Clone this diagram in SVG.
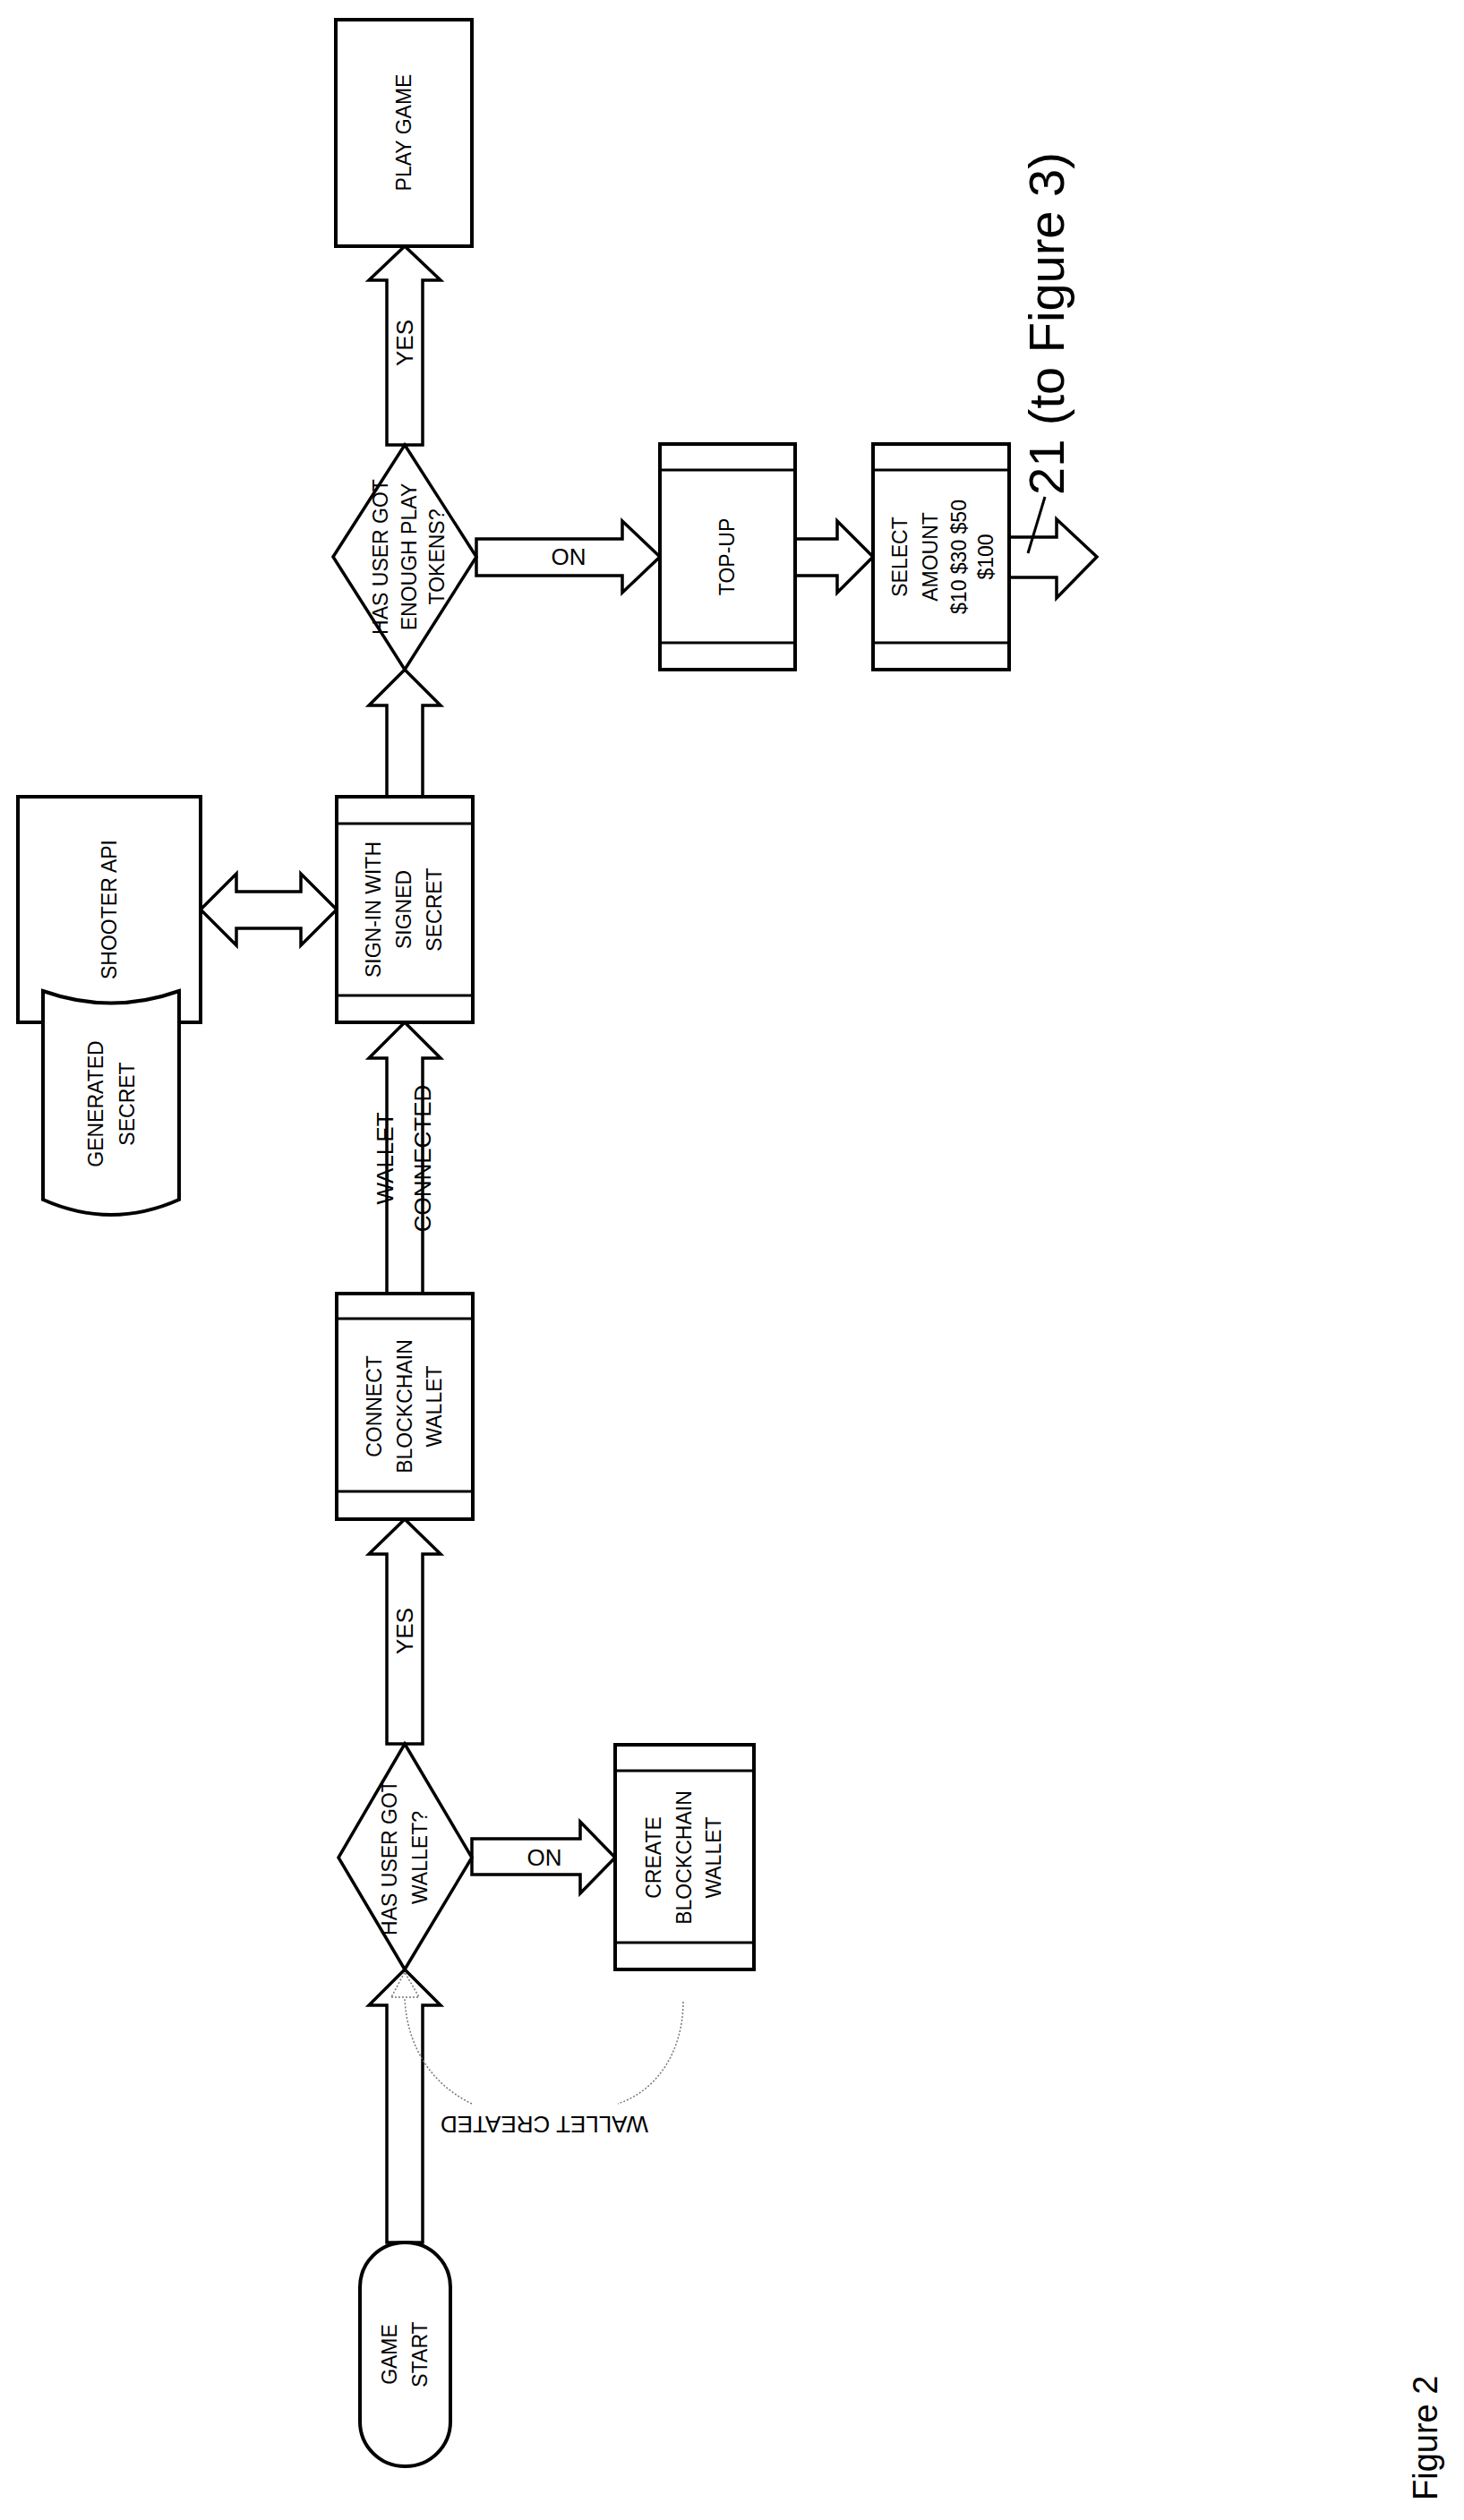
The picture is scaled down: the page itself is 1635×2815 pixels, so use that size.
<svg xmlns="http://www.w3.org/2000/svg" width="1635" height="2815" viewBox="0 0 1635 2815">
<style>
.b{fill:#fff;stroke:#000;stroke-width:4}
.a{fill:#fff;stroke:#000;stroke-width:3.5;stroke-linejoin:miter}
.l{stroke:#000;stroke-width:3}
.t{font-family:"Liberation Sans",Arial,sans-serif;font-size:23px;fill:#000;text-anchor:middle;dominant-baseline:central}
.lab{font-family:"Liberation Sans",Arial,sans-serif;font-size:26px;fill:#000;text-anchor:middle;dominant-baseline:central}
.d{fill:none;stroke:#777;stroke-width:1.5;stroke-dasharray:2 2}
</style>
<rect width="1635" height="2815" fill="#fff"/>
<g id="connectors">
<polygon class="a" points="432,497 432,313 412,313 452,275 492,313 472,313 472,497"/>
<text class="lab" transform="translate(452,383) rotate(-90)">YES</text>
<polygon class="a" points="532,602 695,602 695,582 737,622 695,662 695,643 532,643"/>
<text class="lab" x="635" y="622">ON</text>
<polygon class="a" points="888,602 935,602 935,582 975,622 935,662 935,643 888,643"/>
<polygon class="a" points="1127,600 1180,600 1180,580 1225,622 1180,668 1180,645 1127,645"/>
<line class="l" x1="1148" y1="618" x2="1167" y2="555"/>
<text font-family="Liberation Sans,Arial,sans-serif" font-size="56" transform="translate(1188,553) rotate(-90)">21 (to Figure 3)</text>
<polygon class="a" points="432,890 432,788 412,788 452,748 492,788 472,788 472,890"/>
<polygon class="a" points="224,1016 264,976 264,996 336,996 336,976 376,1016 336,1056 336,1037 264,1037 264,1056"/>
<polygon class="a" points="432,1445 432,1182 412,1182 452,1142 492,1182 472,1182 472,1445"/>
<text class="lab" transform="translate(430,1294) rotate(-90)">WALLET</text>
<text class="lab" transform="translate(472,1294) rotate(-90)">CONNECTED</text>
<polygon class="a" points="432,1948 432,1736 412,1736 452,1697 492,1736 472,1736 472,1948"/>
<text class="lab" transform="translate(452,1822) rotate(-90)">YES</text>
<polygon class="a" points="527,2054 648,2054 648,2035 687,2075 648,2115 648,2094 527,2094"/>
<text class="lab" x="608" y="2075">ON</text>
<polygon class="a" points="432,2505 432,2240 412,2240 452,2200 492,2240 472,2240 472,2505"/>
<polygon class="d" points="437,2231 468,2231 452,2203"/>
<path class="d" d="M763,2236 C763,2290 735,2335 690,2350"/>
<path class="d" d="M527,2350 C485,2330 455,2290 452,2233"/>
<text class="lab" font-size="27" transform="translate(608,2373) rotate(180)">WALLET CREATED</text>
</g>
<g id="play-game"><rect class="b" x="375" y="22" width="152" height="253"/><text class="t" transform="translate(451,148) rotate(-90)">PLAY GAME</text></g>
<g id="enough-tokens"><polygon class="a" points="452,497 532,622 452,748 372,622"/>
<text class="t" transform="translate(425,622) rotate(-90)">HAS USER GOT</text>
<text class="t" transform="translate(457,622) rotate(-90)">ENOUGH PLAY</text>
<text class="t" transform="translate(488,622) rotate(-90)">TOKENS?</text></g>
<g id="top-up"><rect class="b" x="737" y="496" width="151" height="252"/><line class="l" x1="737" y1="525" x2="888" y2="525"/><line class="l" x1="737" y1="718" x2="888" y2="718"/><text class="t" transform="translate(812,622) rotate(-90)">TOP-UP</text></g>
<g id="select-amount"><rect class="b" x="975" y="496" width="152" height="252"/><line class="l" x1="975" y1="525" x2="1127" y2="525"/><line class="l" x1="975" y1="718" x2="1127" y2="718"/>
<text class="t" transform="translate(1005,622) rotate(-90)">SELECT</text>
<text class="t" transform="translate(1039,622) rotate(-90)">AMOUNT</text>
<text class="t" transform="translate(1071,622) rotate(-90)">$10 $30 $50</text>
<text class="t" transform="translate(1101,622) rotate(-90)">$100</text></g>
<g id="sign-in"><rect class="b" x="376" y="890" width="152" height="252"/><line class="l" x1="376" y1="920" x2="528" y2="920"/><line class="l" x1="376" y1="1112" x2="528" y2="1112"/>
<text class="t" transform="translate(417,1016) rotate(-90)">SIGN-IN WITH</text>
<text class="t" transform="translate(451,1016) rotate(-90)">SIGNED</text>
<text class="t" transform="translate(485,1016) rotate(-90)">SECRET</text></g>
<g id="shooter-api"><rect class="b" x="20" y="890" width="204" height="252"/><text class="t" transform="translate(122,1016) rotate(-90)">SHOOTER API</text></g>
<g id="generated-secret"><path class="b" d="M48,1107 Q124,1134 200,1107 L200,1340 Q124,1374 48,1340 Z"/>
<text class="t" transform="translate(107,1233) rotate(-90)">GENERATED</text>
<text class="t" transform="translate(142,1233) rotate(-90)">SECRET</text></g>
<g id="connect-wallet"><rect class="b" x="376" y="1445" width="152" height="252"/><line class="l" x1="376" y1="1473" x2="528" y2="1473"/><line class="l" x1="376" y1="1666" x2="528" y2="1666"/>
<text class="t" transform="translate(418,1571) rotate(-90)">CONNECT</text>
<text class="t" transform="translate(452,1571) rotate(-90)">BLOCKCHAIN</text>
<text class="t" transform="translate(485,1571) rotate(-90)">WALLET</text></g>
<g id="has-wallet"><polygon class="a" points="452,1948 527,2075 452,2200 378,2075"/>
<text class="t" transform="translate(435,2075) rotate(-90)">HAS USER GOT</text>
<text class="t" transform="translate(469,2075) rotate(-90)">WALLET?</text></g>
<g id="create-wallet"><rect class="b" x="687" y="1949" width="155" height="251"/><line class="l" x1="687" y1="1978" x2="842" y2="1978"/><line class="l" x1="687" y1="2170" x2="842" y2="2170"/>
<text class="t" transform="translate(730,2075) rotate(-90)">CREATE</text>
<text class="t" transform="translate(764,2075) rotate(-90)">BLOCKCHAIN</text>
<text class="t" transform="translate(797,2075) rotate(-90)">WALLET</text></g>
<g id="game-start"><rect class="b" x="402" y="2505" width="101" height="250" rx="50" ry="50"/>
<text class="t" transform="translate(435,2630) rotate(-90)">GAME</text>
<text class="t" transform="translate(469,2630) rotate(-90)">START</text></g>
<text font-family="Liberation Sans,Arial,sans-serif" font-size="38" transform="translate(1605,2793) rotate(-90)">Figure 2</text>
</svg>
